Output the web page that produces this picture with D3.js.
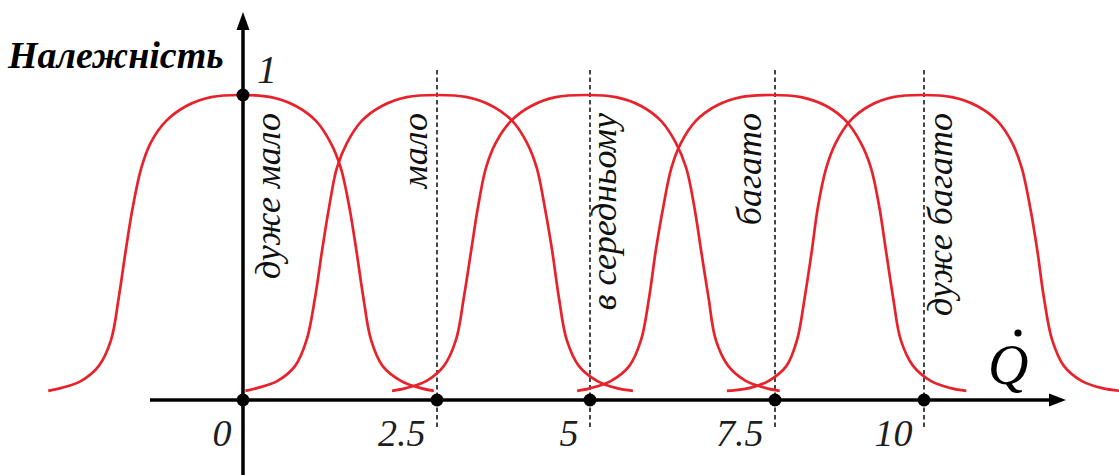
<!DOCTYPE html>
<html>
<head>
<meta charset="utf-8">
<script src="https://cdn.jsdelivr.net/npm/d3@7/dist/d3.min.js"></script>
<style>
  html, body { margin: 0; padding: 0; background: #fff; }
  svg { display: block; }
</style>
</head>
<body>
<svg id="chart" width="1119" height="475"></svg>
<script>
// Linguistic terms and their centres on the Q axis
const categories = ["дуже мало", "мало", "в середньому", "багато", "дуже багато"];
const centers = [0, 2.5, 5, 7.5, 10];
const tickLabels = ["0", "2.5", "5", "7.5", "10"];
const yTickValue = 1;
const yTickLabel = "1";

// Membership curves, [Q, μ] pairs
const veryLow = [[-2.51,0.030],[-2.35,0.039],[-2.09,0.062],[-1.86,0.111],[-1.70,0.197],[-1.60,0.338],[-1.51,0.492],[-1.42,0.633],[-1.31,0.761],[-1.19,0.843],[-0.99,0.915],[-0.73,0.964],[-0.41,0.993],[-0.03,1.000],[0.36,0.993],[0.68,0.964],[0.94,0.915],[1.13,0.843],[1.26,0.761],[1.37,0.633],[1.46,0.492],[1.55,0.338],[1.65,0.197],[1.80,0.111],[2.04,0.062],[2.29,0.039],[2.46,0.030]];
const low = [[0.03,0.030],[0.18,0.039],[0.44,0.062],[0.67,0.111],[0.82,0.197],[0.93,0.338],[1.02,0.492],[1.11,0.633],[1.21,0.761],[1.34,0.843],[1.53,0.915],[1.79,0.964],[2.11,0.993],[2.50,1.000],[2.99,0.993],[3.40,0.964],[3.73,0.915],[3.97,0.843],[4.13,0.761],[4.26,0.633],[4.38,0.492],[4.49,0.338],[4.62,0.197],[4.82,0.111],[5.10,0.062],[5.36,0.039],[5.58,0.030]];
const medium = [[1.92,0.030],[2.10,0.039],[2.36,0.062],[2.61,0.111],[2.81,0.197],[2.94,0.338],[3.06,0.492],[3.17,0.633],[3.30,0.761],[3.46,0.843],[3.71,0.915],[4.04,0.964],[4.44,0.993],[4.94,1.000],[5.35,0.993],[5.69,0.964],[5.96,0.915],[6.16,0.843],[6.30,0.761],[6.41,0.633],[6.50,0.492],[6.60,0.338],[6.70,0.197],[6.87,0.111],[7.11,0.062],[7.38,0.039],[7.58,0.030]];
const high = [[4.79,0.030],[5.01,0.039],[5.28,0.062],[5.53,0.111],[5.69,0.197],[5.80,0.338],[5.89,0.492],[5.99,0.633],[6.10,0.761],[6.23,0.843],[6.43,0.915],[6.70,0.964],[7.04,0.993],[7.45,1.000],[7.94,0.993],[8.36,0.964],[8.69,0.915],[8.94,0.843],[9.11,0.761],[9.25,0.633],[9.36,0.492],[9.48,0.338],[9.61,0.197],[9.82,0.111],[10.12,0.062],[10.45,0.039],[10.71,0.030]];
const veryHigh = [[6.85,0.030],[7.15,0.039],[7.41,0.062],[7.69,0.111],[7.87,0.197],[8.00,0.338],[8.12,0.492],[8.22,0.633],[8.36,0.761],[8.52,0.843],[8.76,0.915],[9.08,0.964],[9.48,0.993],[9.97,1.000],[10.47,0.993],[10.89,0.964],[11.23,0.915],[11.48,0.843],[11.64,0.761],[11.78,0.633],[11.90,0.492],[12.01,0.338],[12.15,0.197],[12.35,0.111],[12.65,0.062],[12.99,0.039],[13.29,0.030]];
const curves = [veryLow, low, medium, high, veryHigh];

// Layout
const labelDx = [37, -10, 26, -14, 28];   // offset of each rotated term label from its centre
const serif = "'Liberation Serif', 'Times New Roman', serif";
const red = "#e8222a";

const svg = d3.select("#chart");

// The Q axis is hand-spaced, so the scale is piecewise linear
const x = d3.scaleLinear().domain(centers).range([243, 437, 590, 775, 924]);
const y = d3.scaleLinear().domain([0, 1]).range([400, 95]);

// Dashed guides at the term centres (except the origin)
svg.append("g").selectAll("line")
  .data(centers.filter(c => c !== 0))
  .join("line")
  .attr("x1", d => x(d)).attr("x2", d => x(d))
  .attr("y1", 70).attr("y2", 428)
  .attr("stroke", "#3c3c3c").attr("stroke-width", 1.9)
  .attr("stroke-dasharray", "4.5,3");

// Membership curves
const line = d3.line().x(d => x(d[0])).y(d => y(d[1])).curve(d3.curveCatmullRom.alpha(0.5));
svg.append("g").selectAll("path")
  .data(curves)
  .join("path")
  .attr("d", line)
  .attr("fill", "none")
  .attr("stroke", red)
  .attr("stroke-width", 2.7);

// Axis lines with arrowheads
const axes = svg.append("g");
axes.append("line")
  .attr("x1", 150).attr("x2", 1052).attr("y1", y(0)).attr("y2", y(0))
  .attr("stroke", "#000").attr("stroke-width", 3.5);
axes.append("path")
  .attr("d", `M1066,${y(0)} L1049,${y(0) - 6.5} L1049,${y(0) + 6.5} Z`)
  .attr("fill", "#000");
axes.append("line")
  .attr("x1", x(0)).attr("x2", x(0)).attr("y1", 475).attr("y2", 26)
  .attr("stroke", "#000").attr("stroke-width", 3.5);
axes.append("path")
  .attr("d", `M${x(0)},12 L${x(0) - 6.5},30 L${x(0) + 6.5},30 Z`)
  .attr("fill", "#000");

// Tick labels along Q
const xAxis = d3.axisBottom(x)
  .tickValues(centers)
  .tickFormat((d, i) => tickLabels[i])
  .tickSize(0)
  .tickPadding(0);
const gx = svg.append("g").attr("transform", `translate(0,${y(0)})`).call(xAxis);
gx.select(".domain").remove();
gx.selectAll("text")
  .attr("y", 46)
  .attr("dy", 0)
  .attr("dx", -12)
  .attr("text-anchor", "end")
  .attr("font-family", serif)
  .attr("font-style", "italic")
  .attr("font-size", 38)
  .attr("fill", "#1e1e1e");

// Points on the axes
svg.append("g").selectAll("circle")
  .data(centers)
  .join("circle")
  .attr("cx", d => x(d)).attr("cy", y(0)).attr("r", 6.5)
  .attr("fill", "#000");
svg.append("circle")
  .attr("cx", x(0)).attr("cy", y(yTickValue)).attr("r", 6.5)
  .attr("fill", "#000");

// Membership axis tick "1"
svg.append("text")
  .attr("x", x(0) + 14).attr("y", y(yTickValue) - 12)
  .attr("font-family", serif).attr("font-style", "italic")
  .attr("font-size", 40).attr("fill", "#1e1e1e")
  .text(yTickLabel);

// Rotated term labels
svg.append("g").selectAll("text")
  .data(categories)
  .join("text")
  .attr("transform", (d, i) => `translate(${x(centers[i]) + labelDx[i]},113) rotate(-90)`)
  .attr("text-anchor", "end")
  .attr("font-family", serif)
  .attr("font-style", "italic")
  .attr("font-size", 36)
  .attr("fill", "#111")
  .text(d => d);

// Axis titles
svg.append("text")
  .attr("x", 8).attr("y", 68)
  .attr("font-family", serif).attr("font-style", "italic").attr("font-weight", "bold")
  .attr("font-size", 38).attr("fill", "#000")
  .text("Належність");

const qTitle = svg.append("g");
qTitle.append("text")
  .attr("x", 988).attr("y", 384)
  .attr("font-family", serif).attr("font-style", "italic")
  .attr("font-size", 56).attr("fill", "#000")
  .text("Q");
qTitle.append("circle")
  .attr("cx", 1018).attr("cy", 333).attr("r", 3.6)
  .attr("fill", "#000");
</script>
</body>
</html>
